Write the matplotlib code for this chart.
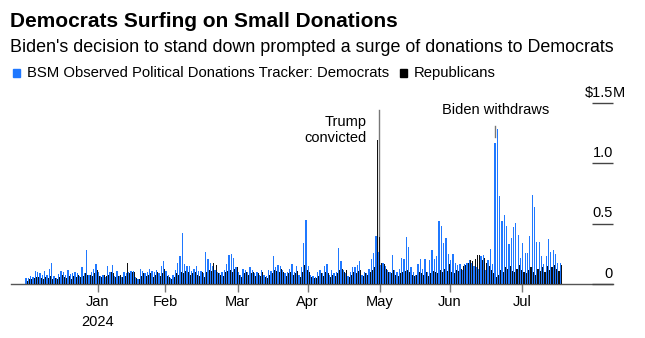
import numpy as np
import matplotlib
matplotlib.use("Agg")
import matplotlib.pyplot as plt
from matplotlib.patches import Rectangle

plt.rcParams['font.family'] = ['Liberation Sans', 'DejaVu Sans']

# daily donations, $M
dem = [
    0.05, 0.05, 0.07, 0.06, 0.11, 0.10, 0.09, 0.08, 0.11, 0.08,
    0.13, 0.18, 0.07, 0.05, 0.085, 0.11, 0.10, 0.08, 0.12, 0.085,
    0.09, 0.10, 0.09, 0.07, 0.14, 0.09, 0.28, 0.08, 0.10, 0.13,
    0.17, 0.10, 0.07, 0.08, 0.06, 0.15, 0.10, 0.16, 0.07, 0.11,
    0.07, 0.06, 0.10, 0.09, 0.10, 0.11, 0.11, 0.06, 0.04, 0.13,
    0.11, 0.09, 0.10, 0.13, 0.11, 0.10, 0.12, 0.09, 0.15, 0.19,
    0.11, 0.08, 0.05, 0.08, 0.12, 0.18, 0.23, 0.42, 0.17, 0.15,
    0.15, 0.11, 0.13, 0.15, 0.11, 0.11, 0.09, 0.27, 0.21, 0.18,
    0.15, 0.12, 0.10, 0.09, 0.10, 0.12, 0.17, 0.24, 0.25, 0.22,
    0.14, 0.10, 0.08, 0.13, 0.12, 0.10, 0.14, 0.12, 0.09, 0.10,
    0.08, 0.12, 0.08, 0.07, 0.12, 0.11, 0.23, 0.14, 0.16, 0.15,
    0.12, 0.09, 0.10, 0.13, 0.17, 0.10, 0.15, 0.08, 0.14, 0.34,
    0.53, 0.15, 0.08, 0.07, 0.06, 0.10, 0.12, 0.09, 0.15, 0.17,
    0.08, 0.12, 0.09, 0.10, 0.30, 0.19, 0.12, 0.09, 0.07, 0.10,
    0.14, 0.14, 0.16, 0.19, 0.08, 0.10, 0.09, 0.13, 0.21, 0.26,
    0.40, 0.27, 0.16, 0.18, 0.15, 0.12, 0.10, 0.24, 0.12, 0.10,
    0.13, 0.22, 0.21, 0.39, 0.31, 0.14, 0.10, 0.08, 0.17, 0.21,
    0.13, 0.21, 0.10, 0.20, 0.28, 0.21, 0.23, 0.52, 0.48, 0.34,
    0.38, 0.25, 0.20, 0.25, 0.18, 0.16, 0.17, 0.12, 0.17, 0.18,
    0.20, 0.18, 0.15, 0.14, 0.13, 0.23, 0.24, 0.12, 0.20, 0.29,
    0.17, 1.165, 1.28, 0.73, 0.52, 0.57, 0.48, 0.33, 0.38, 0.47,
    0.51, 0.41, 0.22, 0.34, 0.26, 0.26, 0.40, 0.74, 0.64, 0.35,
    0.35, 0.23, 0.17, 0.23, 0.37, 0.27, 0.28, 0.25, 0.18, 0.18,
]
rep = [
    0.03, 0.04, 0.04, 0.05, 0.06, 0.06, 0.05, 0.04, 0.06, 0.05,
    0.07, 0.04, 0.05, 0.04, 0.06, 0.08, 0.06, 0.05, 0.07, 0.04,
    0.07, 0.06, 0.08, 0.06, 0.07, 0.09, 0.08, 0.08, 0.07, 0.09,
    0.12, 0.07, 0.06, 0.08, 0.07, 0.08, 0.10, 0.09, 0.06, 0.07,
    0.08, 0.06, 0.07, 0.18, 0.09, 0.10, 0.10, 0.05, 0.04, 0.07,
    0.09, 0.07, 0.08, 0.09, 0.06, 0.08, 0.10, 0.07, 0.09, 0.13,
    0.07, 0.06, 0.04, 0.06, 0.09, 0.08, 0.10, 0.09, 0.11, 0.10,
    0.08, 0.09, 0.10, 0.08, 0.07, 0.10, 0.06, 0.10, 0.12, 0.11,
    0.18, 0.16, 0.09, 0.08, 0.07, 0.10, 0.11, 0.12, 0.10, 0.13,
    0.14, 0.08, 0.06, 0.09, 0.10, 0.08, 0.09, 0.10, 0.07, 0.09,
    0.07, 0.10, 0.06, 0.05, 0.08, 0.09, 0.12, 0.11, 0.10, 0.13,
    0.10, 0.07, 0.09, 0.10, 0.08, 0.09, 0.11, 0.06, 0.10, 0.16,
    0.12, 0.10, 0.06, 0.05, 0.05, 0.07, 0.09, 0.07, 0.10, 0.09,
    0.06, 0.08, 0.07, 0.09, 0.12, 0.13, 0.10, 0.12, 0.06, 0.08,
    0.10, 0.09, 0.11, 0.12, 0.07, 0.09, 0.08, 0.10, 0.12, 0.14,
    1.19, 0.39, 0.18, 0.17, 0.13, 0.10, 0.09, 0.12, 0.08, 0.07,
    0.09, 0.10, 0.11, 0.12, 0.10, 0.08, 0.07, 0.08, 0.10, 0.09,
    0.08, 0.10, 0.07, 0.09, 0.11, 0.10, 0.09, 0.12, 0.10, 0.13,
    0.11, 0.17, 0.10, 0.09, 0.12, 0.11, 0.13, 0.15, 0.16, 0.18,
    0.20, 0.19, 0.21, 0.24, 0.24, 0.20, 0.22, 0.18, 0.15, 0.12,
    0.09, 0.06, 0.08, 0.12, 0.10, 0.14, 0.13, 0.15, 0.11, 0.10,
    0.13, 0.16, 0.12, 0.10, 0.09, 0.12, 0.14, 0.10, 0.08, 0.13,
    0.11, 0.14, 0.10, 0.15, 0.12, 0.14, 0.16, 0.13, 0.11, 0.16,
]
month_ticks = [31, 60, 91, 121, 152, 182, 213]
month_labels = ['Jan\n2024', 'Feb', 'Mar', 'Apr', 'May', 'Jun', 'Jul']
y_ticks = [0, 0.5, 1.0, 1.5]
y_labels = ['0', '0.5', '1.0', '$1.5M']
trump_day = 150
biden_day = 201

BLUE = '#1f78ff'
BLACK = '#111111'
W, H = 645, 338


def fx(px):
    return px / W


def fy(py):
    return 1 - py / H


fig = plt.figure(figsize=(W / 100, H / 100), dpi=100)
ax = fig.add_axes([fx(11), fy(284.3), fx(613) - fx(11), 1.5 * 121.1 / H])

days = np.arange(len(dem))
ax.bar(days - 0.22, dem, width=0.5, color=BLUE, linewidth=0, zorder=2)
ax.bar(days + 0.25, rep, width=0.44, color=BLACK, linewidth=0, zorder=3)

ax.set_xlim((11 - 26.5) / 2.333, (613 - 26.5) / 2.333)
ax.set_ylim(0, 1.5)

for s in ['top', 'right', 'left']:
    ax.spines[s].set_visible(False)
ax.spines['bottom'].set_color('#555555')
ax.spines['bottom'].set_linewidth(1)
ax.set_yticks([])
ax.set_xticks(np.array(month_ticks) - 0.5)
ax.set_xticklabels(month_labels, fontsize=10.5, linespacing=1.5)
ax.tick_params(axis='x', length=6, width=1, color='#777777', pad=2)

# right-hand value scale: short lines with labels above
ytr = ax.get_yaxis_transform()
ax.hlines(y_ticks, 0.965, 1.0, transform=ytr, color='#444444', lw=1,
          clip_on=False, zorder=4)
for v, lab in zip(y_ticks, y_labels):
    if lab.endswith('M'):
        ax.text(1.0, v + 0.025, '$1.5', transform=ytr, ha='right', va='bottom',
                fontsize=10.5, clip_on=False)
        ax.annotate('M', (1.0, v + 0.025), xycoords=ytr, ha='left',
                    va='bottom', fontsize=10.5, annotation_clip=False)
    else:
        ax.text(1.0, v + 0.03, lab, transform=ytr, ha='right', va='bottom',
                fontsize=10.5)

# annotations
ax.plot([trump_day + 0.9, trump_day + 0.9], [0, 1.44], color='#777777',
        lw=1, zorder=1)
fig.text(fx(367), fy(115), 'Trump\nconvicted', ha='right', va='top',
         fontsize=10.5, linespacing=1.15)
ax.plot([biden_day - 0.2, biden_day - 0.2], [1.22, 1.31], color='#777777',
        lw=1, zorder=1)
fig.text(fx(496), fy(110), 'Biden withdraws', ha='center', va='center',
         fontsize=10.5)

# titles
fig.text(fx(10), fy(27), 'Democrats Surfing on Small Donations',
         fontsize=15, fontweight='bold', va='baseline')
fig.text(fx(10), fy(52), "Biden's decision to stand down prompted a surge "
         "of donations to Democrats", fontsize=12.9, va='baseline')

# legend
fig.add_artist(Rectangle((fx(13), fy(77)), 7 / W, 8 / H, color=BLUE,
                         transform=fig.transFigure))
fig.text(fx(27), fy(77), 'BSM Observed Political Donations Tracker: Democrats',
         fontsize=10.7, va='baseline')
fig.add_artist(Rectangle((fx(400), fy(77)), 7 / W, 8 / H, color='black',
                         transform=fig.transFigure))
fig.text(fx(414), fy(77), 'Republicans', fontsize=10.7, va='baseline')

fig.savefig('out.png', dpi=100, facecolor='white')
